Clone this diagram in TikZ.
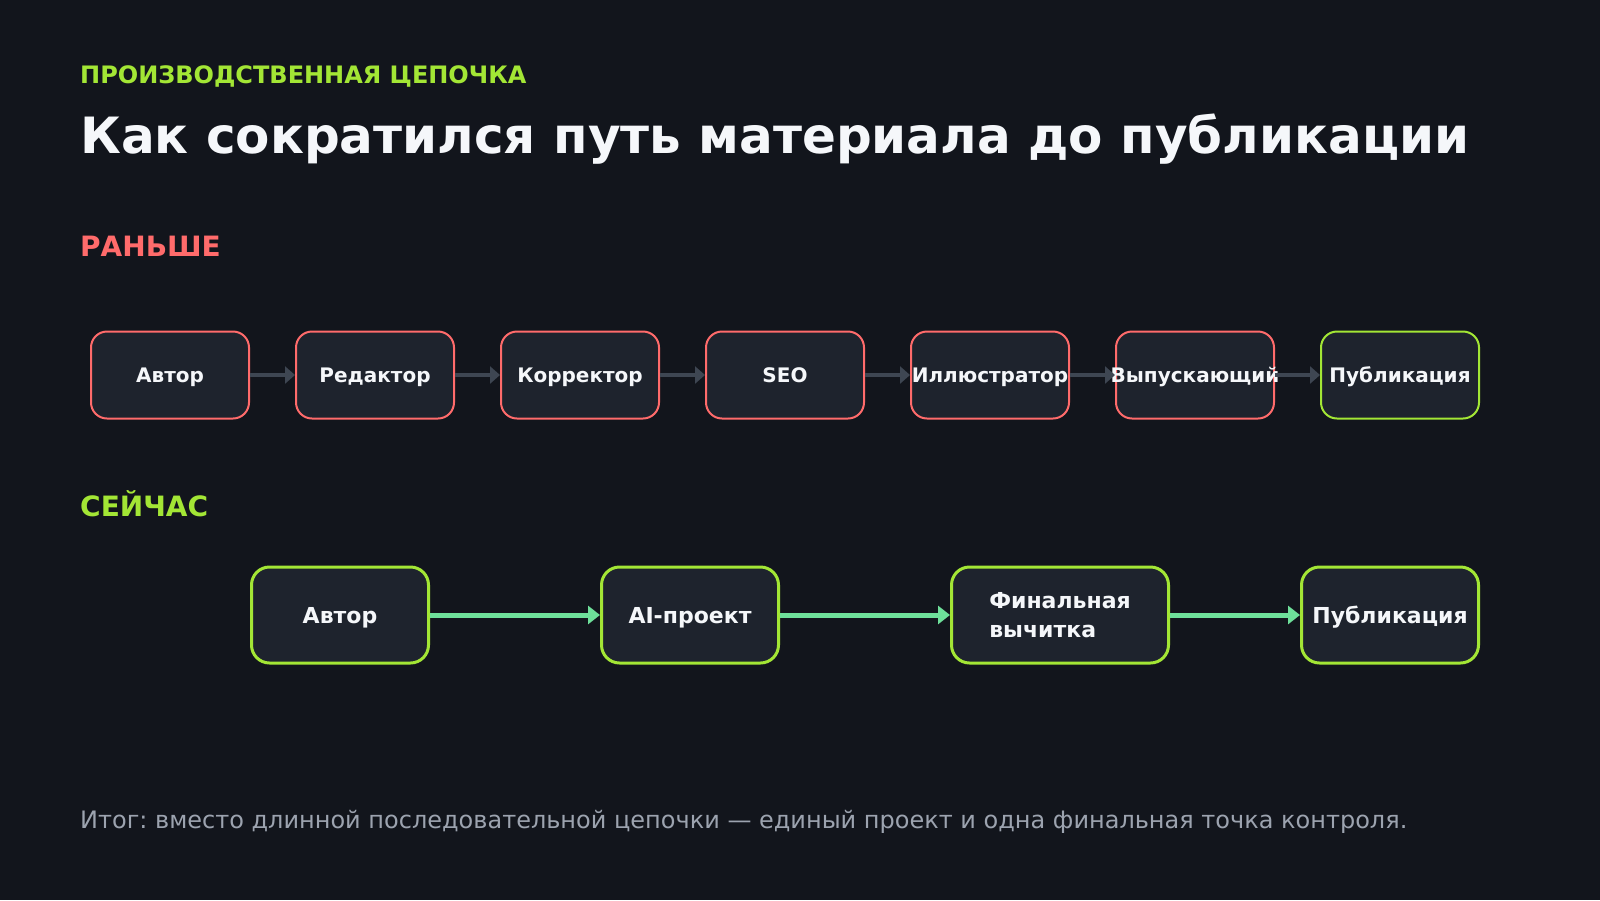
\documentclass[tikz,border=0pt]{standalone}
\usepackage{fontspec}
\setmainfont{DejaVu Sans}
\usetikzlibrary{arrows.meta, positioning}
\definecolor{bgDark}{HTML}{12151C}
\definecolor{boxFill}{HTML}{1E232D}
\definecolor{oldRed}{HTML}{FF6B6B}
\definecolor{newLime}{HTML}{A3E635}
\definecolor{flowGreen}{HTML}{6EE09A}
\definecolor{flowGrey}{HTML}{3E4652}
\definecolor{titleWhite}{HTML}{F5F7FA}
\definecolor{noteGrey}{HTML}{9CA3AF}
\newcommand{\pxfont}[2]{\fontsize{#1}{#2}\selectfont}
\frenchspacing

\begin{document}
\begin{tikzpicture}[
  x=1pt, y=-1pt,
  node distance=45pt,
  oldstep/.style={draw=oldRed, line width=2pt, rounded corners=16pt, fill=boxFill,
                  minimum width=158pt, minimum height=87pt, inner sep=0pt,
                  text depth=0pt, text=titleWhite, font=\pxfont{20}{24}\bfseries},
  newstep/.style={draw=newLime, line width=3pt, rounded corners=18pt, fill=boxFill,
                  minimum width=177pt, minimum height=96pt, inner sep=0pt, align=left,
                  text depth=0pt, text=titleWhite, font=\pxfont{22}{29}\bfseries},
  oldline/.style={-{Triangle[length=10pt, width=17pt]}, line width=4pt, draw=flowGrey},
  newline/.style={-{Triangle[length=12pt, width=18pt]}, line width=5pt, draw=flowGreen},
  heading/.style={anchor=base west, inner sep=0pt, font=\pxfont{28}{32}\bfseries}
]
\useasboundingbox (0,0) rectangle (1600,900);
\fill[bgDark] (0,0) rectangle (1600,900);

% headings
\node[heading, text=newLime, font=\pxfont{24}{28}\bfseries] (kicker) at (80,83) {ПРОИЗВОДСТВЕННАЯ ЦЕПОЧКА};
\node[heading, text=titleWhite, font=\pxfont{50}{58}\bfseries] (title) at (80,153) {Как сократился путь материала до публикации};
\node[heading, text=oldRed] (before) at (80,256) {РАНЬШЕ};
\node[heading, text=newLime] (now) at (80,516) {СЕЙЧАС};

% old chain
\node[oldstep] (oAuthor) at (170,375) {Автор};
\node[oldstep, right=of oAuthor] (oEditor) {Редактор};
\node[oldstep, right=of oEditor] (oProof) {Корректор};
\node[oldstep, right=of oProof] (oSeo) {SEO};
\node[oldstep, right=of oSeo] (oIllu) {\makebox[0pt]{Иллюстратор}};
\node[oldstep, right=of oIllu] (oRelease) {\makebox[0pt]{Выпускающий}};
\node[oldstep, draw=newLime, right=of oRelease] (oPub) {Публикация};

\draw[oldline] (oAuthor) -- (oEditor);
\draw[oldline] (oEditor) -- (oProof);
\draw[oldline] (oProof) -- (oSeo);
\draw[oldline] (oSeo) -- (oIllu);
\draw[oldline] (oIllu) -- (oRelease);
\draw[oldline] (oRelease) -- (oPub);

% new chain
\node[newstep] (nAuthor) at (340,615) {Автор};
\node[newstep, right=170pt of nAuthor] (nDraft) {AI-проект};
\node[newstep, minimum width=217pt, right=170pt of nDraft] (nCheck) {Финальная\\вычитка};
\node[newstep, right=130pt of nCheck] (nPub) {Публикация};

\draw[newline] (nAuthor) -- (nDraft);
\draw[newline] (nDraft) -- (nCheck);
\draw[newline] (nCheck) -- (nPub);

\node[anchor=base west, inner sep=0pt, font=\pxfont{24}{28}, text=noteGrey] (summary) at (80,828)
  {Итог: вместо длинной последовательной цепочки — единый проект и одна финальная точка контроля.};
\end{tikzpicture}
\end{document}
